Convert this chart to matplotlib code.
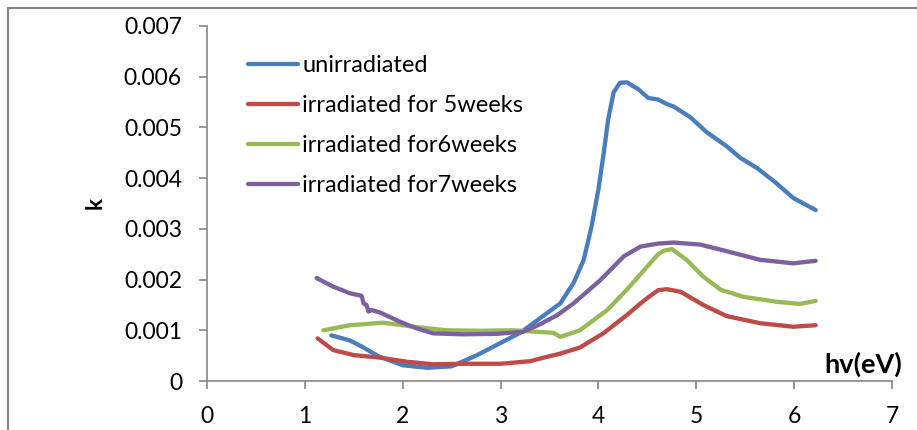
import matplotlib
matplotlib.use("Agg")
import matplotlib.pyplot as plt
from matplotlib.patches import Rectangle

plt.rcParams['font.family'] = ['Lato', 'DejaVu Sans']

# Data
unirr_x = [1.27, 1.46, 1.60, 1.75, 2.00, 2.25, 2.50, 2.75, 3.00, 3.20, 3.405, 3.61, 3.745, 3.85, 3.93,
           4.00, 4.05, 4.10, 4.155, 4.22, 4.29, 4.41, 4.51, 4.61, 4.70, 4.77, 4.94, 5.11, 5.31, 5.45,
           5.62, 5.80, 5.99, 6.22]
unirr_y = [0.00090, 0.00080, 0.00066, 0.00049, 0.00031, 0.00026, 0.00029, 0.00050, 0.00075, 0.00095,
           0.00124, 0.00153, 0.00193, 0.00239, 0.00305, 0.00378, 0.00444, 0.00516, 0.00569, 0.00588,
           0.00589, 0.00575, 0.00558, 0.00555, 0.00546, 0.00541, 0.00520, 0.00490, 0.00463, 0.00440,
           0.00420, 0.00393, 0.00361, 0.00337]

w5_x = [1.13, 1.29, 1.50, 1.77, 2.04, 2.31, 2.66, 3.00, 3.30, 3.44, 3.61, 3.81, 4.05, 4.29, 4.43,
        4.53, 4.61, 4.70, 4.84, 5.07, 5.31, 5.65, 5.99, 6.22]
w5_y = [0.00084, 0.00061, 0.00051, 0.00046, 0.00038, 0.00033, 0.00034, 0.00034, 0.00039, 0.00046,
        0.00054, 0.00066, 0.00094, 0.00130, 0.00153, 0.00168, 0.00179, 0.00181, 0.00176, 0.00150,
        0.00128, 0.00114, 0.00107, 0.00110]

w6_x = [1.19, 1.46, 1.80, 2.11, 2.45, 2.79, 3.13, 3.54, 3.61, 3.81, 4.09, 4.29, 4.50, 4.61, 4.67,
        4.75, 4.90, 5.07, 5.25, 5.48, 5.83, 6.06, 6.22]
w6_y = [0.00100, 0.00110, 0.00115, 0.00107, 0.00100, 0.00099, 0.00100, 0.00095, 0.00087, 0.00100,
        0.00140, 0.00180, 0.00226, 0.00250, 0.00257, 0.00260, 0.00239, 0.00206, 0.00180, 0.00166,
        0.00156, 0.00152, 0.00158]

w7_x = [1.12, 1.29, 1.46, 1.58, 1.60, 1.63, 1.65, 1.68, 1.77, 1.97, 2.14, 2.31, 2.62, 2.96, 3.23,
        3.405, 3.58, 3.745, 4.02, 4.26, 4.43, 4.61, 4.77, 5.04, 5.31, 5.65, 5.99, 6.22]
w7_y = [0.00203, 0.00186, 0.00173, 0.00168, 0.00153, 0.00150, 0.00137, 0.00140, 0.00135, 0.00117,
        0.00104, 0.00094, 0.00092, 0.00093, 0.00097, 0.00112, 0.00130, 0.00153, 0.00199, 0.00246,
        0.00265, 0.00271, 0.00273, 0.00269, 0.00256, 0.00239, 0.00232, 0.00237]

labels = ["unirradiated", "irradiated for 5weeks", "irradiated for6weeks", "irradiated for7weeks"]
colors = ["#4a7ebb", "#be4b48", "#98b954", "#7d60a0"]

x_ticks = [0, 1, 2, 3, 4, 5, 6, 7]
y_ticks = [0, 0.001, 0.002, 0.003, 0.004, 0.005, 0.006, 0.007]
y_ticklabels = ["0", "0.001", "0.002", "0.003", "0.004", "0.005", "0.006", "0.007"]

fig = plt.figure(figsize=(9.17, 4.30), dpi=100)
ax = fig.add_axes([207 / 917, 49 / 430, (892 - 207) / 917, (381 - 26) / 430])

series = [(unirr_x, unirr_y), (w5_x, w5_y), (w6_x, w6_y), (w7_x, w7_y)]
for (xs, ys), lab, c in zip(series, labels, colors):
    ax.plot(xs, ys, color=c, lw=3.1, label=lab, solid_capstyle='round', solid_joinstyle='round')

ax.set_xlim(0, 7)
ax.set_ylim(0, 0.007)
ax.set_xticks(x_ticks)
ax.set_xticklabels([str(t) for t in x_ticks])
ax.set_yticks(y_ticks)
ax.set_yticklabels(y_ticklabels)

gray = "#868686"
for s in ['top', 'right']:
    ax.spines[s].set_visible(False)
for s in ['left', 'bottom']:
    ax.spines[s].set_color(gray)
    ax.spines[s].set_linewidth(1.2)
ax.tick_params(axis='both', direction='out', length=6, width=1.2, color=gray,
               labelsize=16.5, pad=12, labelcolor='black')

ax.set_ylabel("k", fontsize=16, fontweight='bold')
ax.yaxis.set_label_coords(-0.148, 0.5)

ax.text(1.0155, 0.022, "hv(eV)", transform=ax.transAxes, ha='right', va='baseline',
        fontsize=19.5, fontweight='bold')

leg = ax.legend(loc='upper left', bbox_to_anchor=(0.046, 0.945), frameon=False, fontsize=17,
                handlelength=2.12, handletextpad=0.17, labelspacing=0.81, borderaxespad=0)

# outer frame (cropped at right/bottom in the reference)
fig.patches.append(Rectangle((8 / 917, -0.1), 1.2, (430 - 8) / 430 + 0.1, transform=fig.transFigure,
                             fill=False, edgecolor=gray, lw=1.5))

fig.savefig("out.png", dpi=100)
